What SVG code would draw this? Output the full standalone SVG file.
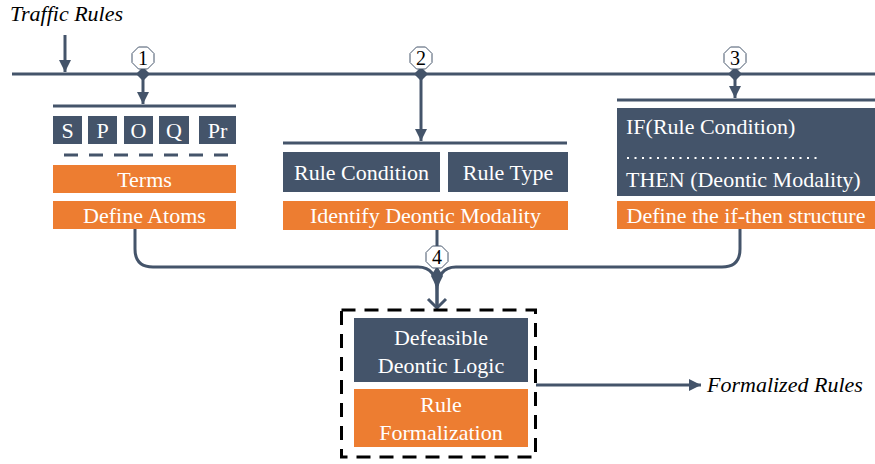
<svg xmlns="http://www.w3.org/2000/svg" width="875" height="464" viewBox="0 0 875 464">
<defs>
<marker id="ah" viewBox="0 0 10 10" refX="10" refY="5" markerWidth="4" markerHeight="4" markerUnits="strokeWidth" orient="auto"><path d="M0,0 L10,5 L0,10 Z" fill="#44546A"/></marker>
</defs>
<style>
.ln{stroke:#44546A;stroke-width:3;fill:none}
.dk{fill:#44546A}
.or{fill:#ED7D31}
.wt{font-family:"Liberation Serif","Times New Roman","DejaVu Serif",serif;font-size:22px;fill:#FFFFFF;text-anchor:middle}
.lt{text-anchor:start}
.it{font-family:"Liberation Serif","Times New Roman","DejaVu Serif",serif;font-size:22px;font-style:italic;fill:#000000}
.oct{fill:#FFFFFF;stroke:#44546A;stroke-width:1}
.num{font-family:"Liberation Serif","Times New Roman","DejaVu Serif",serif;font-size:20px;fill:#000000;text-anchor:middle}
.dia{fill:#44546A}
</style>
<rect width="875" height="464" fill="#FFFFFF"/>

<g id="connectors">
<line class="ln" x1="12" y1="74" x2="875" y2="74"/>
<line class="ln" x1="65" y1="35" x2="65" y2="72" marker-end="url(#ah)"/>
<line class="ln" x1="143" y1="74" x2="143" y2="104" marker-end="url(#ah)"/>
<line class="ln" x1="421" y1="74" x2="421" y2="141" marker-end="url(#ah)"/>
<line class="ln" x1="735" y1="74" x2="735" y2="98" marker-end="url(#ah)"/>
<polygon class="dia" points="143,67 150,74 143,81 136,74"/>
<polygon class="dia" points="421,67 428,74 421,81 414,74"/>
<polygon class="dia" points="735,67 742,74 735,81 728,74"/>
<line class="ln" x1="53" y1="106" x2="236" y2="106"/>
<line class="ln" x1="283" y1="143" x2="567" y2="143"/>
<line class="ln" x1="617" y1="100" x2="875" y2="100"/>
<line x1="64" y1="155" x2="236" y2="155" stroke="#44546A" stroke-width="3" stroke-dasharray="14 11"/>
<path class="ln" d="M135,229 V249 Q135,267 153,267 H418 C431,267 437,276 437,292 V306"/>
<path class="ln" d="M740,229 V249 Q740,267 722,267 H456 C443,267 437,276 437,292 V306"/>
<line class="ln" x1="437" y1="229" x2="437" y2="268"/>
<polygon class="dia" points="437,266 443,276 437,288 431,276"/>
<polyline class="ln" points="428,299 437,308 446,299" stroke-width="2.5"/>
<line class="ln" x1="536" y1="385" x2="701" y2="385" marker-end="url(#ah)"/>
</g>

<g id="title">
<text class="it" x="10" y="21">Traffic Rules</text>
</g>

<g id="step1">
<polygon class="oct" points="138.5,47 147.5,47 154,53.5 154,62.5 147.5,69 138.5,69 132,62.5 132,53.5"/>
<text class="num" x="143" y="65">1</text>
</g>
<g id="step2">
<polygon class="oct" points="416.5,47 425.5,47 432,53.5 432,62.5 425.5,69 416.5,69 410,62.5 410,53.5"/>
<text class="num" x="421" y="65">2</text>
</g>
<g id="step3">
<polygon class="oct" points="730.5,47 739.5,47 746,53.5 746,62.5 739.5,69 730.5,69 724,62.5 724,53.5"/>
<text class="num" x="735" y="65">3</text>
</g>
<g id="step4">
<polygon class="oct" points="432.5,246 441.5,246 448,252.5 448,261.5 441.5,268 432.5,268 426,261.5 426,252.5"/>
<text class="num" x="437" y="264">4</text>
</g>

<g id="atoms">
<rect class="dk" x="53" y="116" width="29" height="28"/>
<text class="wt" x="67.5" y="138">S</text>
<rect class="dk" x="88" y="116" width="29" height="28"/>
<text class="wt" x="102.5" y="138">P</text>
<rect class="dk" x="124" y="116" width="29" height="28"/>
<text class="wt" x="138.5" y="138">O</text>
<rect class="dk" x="159" y="116" width="30" height="28"/>
<text class="wt" x="174" y="138">Q</text>
<rect class="dk" x="199" y="116" width="37" height="28"/>
<text class="wt" x="217.5" y="138">Pr</text>
</g>
<g id="terms">
<rect class="or" x="53" y="165" width="183" height="28"/>
<text class="wt" x="144.5" y="187">Terms</text>
</g>
<g id="define-atoms">
<rect class="or" x="53" y="201" width="183" height="28"/>
<text class="wt" x="144.5" y="223">Define Atoms</text>
</g>

<g id="rule-condition">
<rect class="dk" x="283" y="152" width="157" height="40"/>
<text class="wt" x="361.5" y="180">Rule Condition</text>
</g>
<g id="rule-type">
<rect class="dk" x="448" y="152" width="120" height="40"/>
<text class="wt" x="508" y="180">Rule Type</text>
</g>
<g id="identify-modality">
<rect class="or" x="283" y="201" width="285" height="29"/>
<text class="wt" x="425.5" y="223">Identify Deontic Modality</text>
</g>

<g id="if-then">
<rect class="dk" x="617" y="108" width="258" height="88"/>
<text class="wt lt" x="626" y="134">IF(Rule Condition)</text>
<line x1="627" y1="158" x2="820" y2="158" stroke="#FFFFFF" stroke-width="2" stroke-dasharray="2 5.5"/>
<text class="wt lt" x="626" y="187">THEN (Deontic Modality)</text>
</g>
<g id="define-if-then">
<rect class="or" x="617" y="201" width="258" height="28"/>
<text class="wt" x="746" y="223">Define the if-then structure</text>
</g>

<g id="formalization">
<rect x="341.5" y="310" width="194" height="147" fill="none" stroke="#000000" stroke-width="3" stroke-dasharray="14 9"/>
<rect class="dk" x="354" y="318" width="174" height="64"/>
<text class="wt" x="441" y="345">Defeasible</text>
<text class="wt" x="441" y="373">Deontic Logic</text>
<rect class="or" x="354" y="389" width="174" height="58"/>
<text class="wt" x="441" y="412">Rule</text>
<text class="wt" x="441" y="440">Formalization</text>
</g>

<g id="output">
<text class="it" x="707" y="392">Formalized Rules</text>
</g>
</svg>
